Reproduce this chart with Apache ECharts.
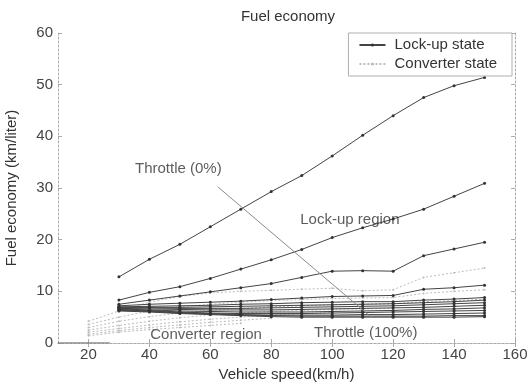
<!DOCTYPE html>
<html><head><meta charset="utf-8">
<script src="https://cdn.jsdelivr.net/npm/echarts@6/dist/echarts.min.js"></script>
<style>html,body{margin:0;padding:0;background:#fff}#c{width:529px;height:383px}</style>
</head><body><div id="c"></div>
<script>
// ---- data ----
var lockSpeeds = [30,40,50,60,70,80,90,100,110,120,130,140,150];
var lock1  = [12.8,16.2,19.1,22.5,25.9,29.3,32.4,36.2,40.2,44.0,47.5,49.8,51.4];
var lock2  = [8.3,9.8,10.9,12.5,14.3,16.1,18.1,20.4,22.3,24.0,25.9,28.4,30.9];
var lock3  = [7.5,8.3,9.1,9.9,10.7,11.5,12.7,13.9,14.0,13.9,16.9,18.2,19.5];
var lock4  = [7.2,7.5,7.7,7.9,8.1,8.4,8.7,9.0,9.1,9.2,10.4,10.7,11.2];
var lock5  = [7.0,7.1,7.2,7.3,7.5,7.6,7.8,7.9,8.0,8.0,8.3,8.5,8.8];
var lock6  = [6.9,6.9,6.9,7.0,7.1,7.2,7.3,7.4,7.5,7.6,7.8,8.0,8.3];
var lock7  = [6.8,6.8,6.7,6.7,6.7,6.8,6.9,7.0,7.1,7.2,7.4,7.6,7.8];
var lock8  = [6.7,6.6,6.5,6.4,6.4,6.4,6.5,6.6,6.7,6.8,6.9,7.1,7.3];
var lock9  = [6.6,6.4,6.2,6.1,6.0,6.0,6.0,6.1,6.2,6.3,6.5,6.6,6.8];
var lock10 = [6.5,6.3,6.0,5.8,5.7,5.7,5.7,5.8,5.9,6.0,6.1,6.2,6.3];
var lock11 = [6.4,6.2,5.9,5.7,5.5,5.4,5.4,5.4,5.5,5.5,5.6,5.7,5.8];
var lock12 = [6.3,6.1,5.8,5.6,5.4,5.3,5.2,5.2,5.2,5.2,5.2,5.3,5.3];
var lock13 = [6.2,6.0,5.7,5.5,5.3,5.1,5.0,5.0,5.0,5.0,5.0,5.0,5.1];

var convSpeeds = [20,30,40,50,60,70,80,90,100,110,120,130,140,150];
var conv1 = [4.2,6.2,7.9,9.0,9.7,10.0,10.2,10.4,10.6,10.1,10.3,12.7,13.6,14.5];
var conv2 = [3.6,5.0,6.2,7.0,7.5,7.9,8.2,8.4,8.6,8.7,8.8,9.6,10.0,10.3];
var conv3 = [3.0,4.2,5.1,5.8,6.3,6.7,7.0,7.2,7.4,7.5,7.6,8.0,8.2,8.5];
var conv4 = [2.5,3.4,4.2,4.9,5.4,5.8,6.1,6.3,6.5,6.6,6.7];
var conv5 = [2.1,2.8,3.5,4.1,4.6,5.0,5.4,5.7,5.9];
var conv6 = [1.7,2.4,3.0,3.5,4.0,4.4,4.8];
var conv7 = [1.4,2.1,2.6,3.0,3.4,3.8];

var zeroLine = [[10,0],[27,0]];
var throttleLine = [[62.5,30.2],[113,4.9]];

var xTicks = [20,40,60,80,100,120,140,160];
var yTicks = [0,10,20,30,40,50,60];

var annotations = [
  {name:'Throttle (0%)', value:[49.5,33.8]},
  {name:'Lock-up region', value:[105.8,23.8]},
  {name:'Converter region', value:[58.6,1.5]},
  {name:'Throttle (100%)', value:[111,1.9]}
];

// ---- chart ----
var FONT = 'Liberation Sans, Arial, sans-serif';
var lockSets = [lock1,lock2,lock3,lock4,lock5,lock6,lock7,lock8,lock9,lock10,lock11,lock12,lock13];
var convSets = [conv1,conv2,conv3,conv4,conv5,conv6,conv7];
function pair(xs, ys){ return ys.map(function(v,i){ return [xs[i], v]; }); }

var series = [];
convSets.forEach(function(s){
  series.push({name:'Converter state', type:'line', data:pair(convSpeeds,s),
    symbol:'circle', symbolSize:2, showSymbol:true,
    itemStyle:{color:'#bdbdbd'}, lineStyle:{color:'#bdbdbd', width:1, type:[2,2]},
    silent:true, z:2});
});
lockSets.forEach(function(s){
  series.push({name:'Lock-up state', type:'line', data:pair(lockSpeeds,s),
    symbol:'circle', symbolSize:3, showSymbol:true,
    itemStyle:{color:'#333'}, lineStyle:{color:'#444', width:1},
    silent:true, z:3});
});
series.push({name:'zero', type:'line', data:zeroLine, symbol:'none',
  lineStyle:{color:'#555', width:1.2}, silent:true, z:3});
series.push({name:'throttle', type:'line', data:throttleLine, symbol:'none',
  lineStyle:{color:'#8a8a8a', width:1}, silent:true, z:4});
series.push({name:'notes', type:'scatter', data:annotations, symbolSize:0, silent:true, z:5,
  label:{show:true, position:'inside', formatter:'{b}', color:'#333', fontSize:15, fontFamily:FONT}});

var axisLineStyle = {color:'#aaa', width:1, type:[2,2]};
var option = {
  backgroundColor:'#fff',
  animation:false,
  title:{text:'Fuel economy', top:4, left:283, textAlign:'center',
    textStyle:{fontSize:15, fontWeight:'normal', color:'#333', fontFamily:FONT}},
  legend:{data:[{name:'Lock-up state'},{name:'Converter state'}], orient:'vertical',
    right:17, top:33, itemWidth:26, itemHeight:4, itemGap:3, padding:[4,15,4,10],
    borderColor:'#b0b0b0', borderWidth:1, backgroundColor:'#fff',
    textStyle:{fontSize:15, color:'#333', fontFamily:FONT, padding:[0,0,0,4], lineHeight:16}},
  grid:{left:58, right:14, top:33, bottom:40, containLabel:false, outerBoundsMode:'none'},
  xAxis:[{type:'value', min:10, max:160, position:'bottom',
    name:'Vehicle speed(km/h)', nameLocation:'middle', nameGap:20,
    nameTextStyle:{fontSize:15, color:'#333', fontFamily:FONT},
    axisLine:{show:true, lineStyle:axisLineStyle},
    axisTick:{show:true, inside:true, length:4, customValues:xTicks, lineStyle:{color:'#aaa'}},
    axisLabel:{customValues:xTicks, fontSize:15, color:'#444', margin:4, fontFamily:FONT},
    splitLine:{show:false}},
   {type:'value', min:10, max:160, position:'top',
    axisLine:{show:true, lineStyle:axisLineStyle},
    axisTick:{show:true, inside:true, length:4, customValues:xTicks, lineStyle:{color:'#aaa'}},
    axisLabel:{show:false}, splitLine:{show:false}}],
  yAxis:[{type:'value', min:0, max:60, interval:10, position:'left',
    name:'Fuel economy (km/liter)', nameLocation:'middle', nameGap:39, nameRotate:90,
    nameTextStyle:{fontSize:15, color:'#333', fontFamily:FONT},
    axisLine:{show:true, lineStyle:axisLineStyle},
    axisTick:{show:true, inside:true, length:4, lineStyle:{color:'#aaa'}},
    axisLabel:{fontSize:15, color:'#444', margin:5, fontFamily:FONT},
    splitLine:{show:false}},
   {type:'value', min:0, max:60, interval:10, position:'right',
    axisLine:{show:true, lineStyle:axisLineStyle},
    axisTick:{show:true, inside:true, length:4, lineStyle:{color:'#aaa'}},
    axisLabel:{show:false}, splitLine:{show:false}}],
  series:series
};
var chart = echarts.init(document.getElementById('c'), null, {renderer:'canvas'});
chart.setOption(option);
</script></body></html>
